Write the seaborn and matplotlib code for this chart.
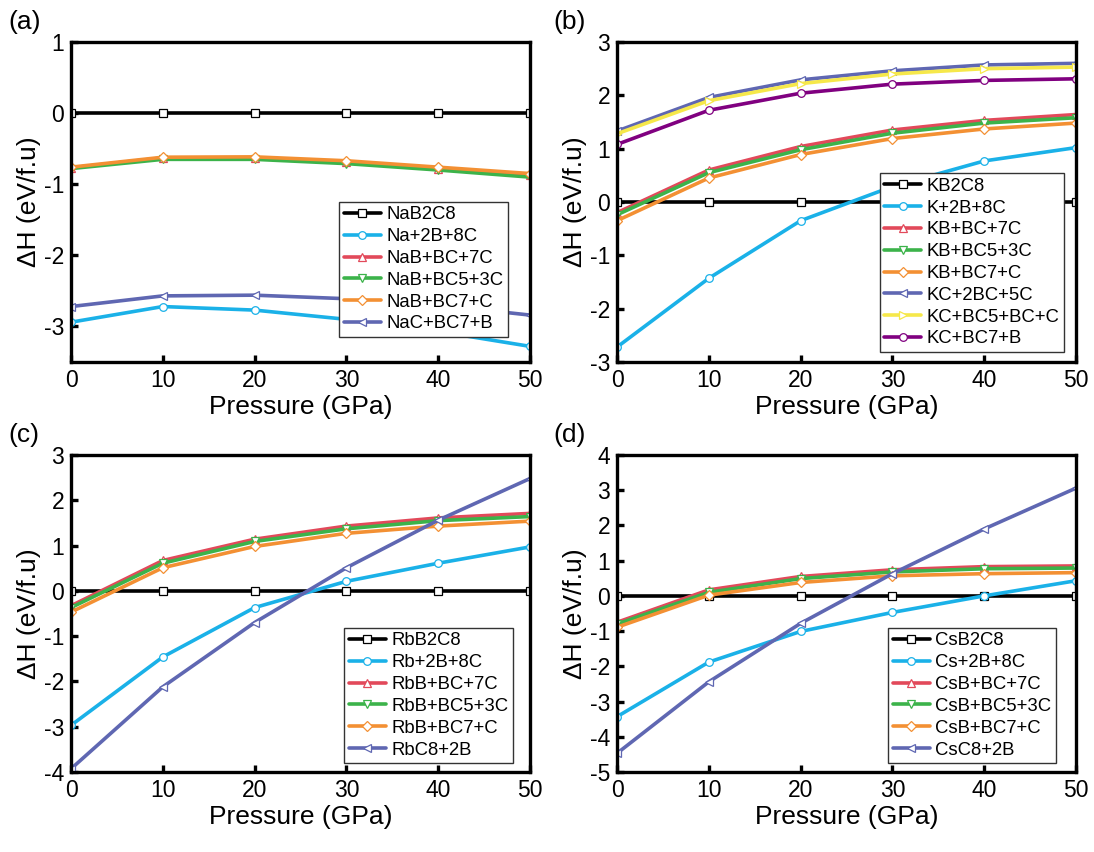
import numpy as np
import matplotlib
matplotlib.use("Agg")
import matplotlib.pyplot as plt
import seaborn as sns

sns.set_style("ticks")
plt.rcParams["font.family"] = ["Liberation Sans", "DejaVu Sans"]
plt.rcParams["axes.unicode_minus"] = False
plt.rcParams["axes.edgecolor"] = "black"
plt.rcParams["text.color"] = "black"
plt.rcParams["axes.labelcolor"] = "black"
plt.rcParams["xtick.color"] = "black"
plt.rcParams["ytick.color"] = "black"

pressure = [0, 10, 20, 30, 40, 50]

# (a) Na
na_labels = ["NaB2C8", "Na+2B+8C", "NaB+BC+7C", "NaB+BC5+3C", "NaB+BC7+C", "NaC+BC7+B"]
na_vals = [
    [0, 0, 0, 0, 0, 0],
    [-2.94, -2.72, -2.77, -2.90, -3.07, -3.28],
    [-0.77, -0.63, -0.63, -0.69, -0.78, -0.87],
    [-0.78, -0.65, -0.65, -0.71, -0.80, -0.90],
    [-0.76, -0.62, -0.615, -0.67, -0.76, -0.85],
    [-2.72, -2.57, -2.56, -2.61, -2.70, -2.84],
]

# (b) K
k_labels = ["KB2C8", "K+2B+8C", "KB+BC+7C", "KB+BC5+3C", "KB+BC7+C",
            "KC+2BC+5C", "KC+BC5+BC+C", "KC+BC7+B"]
k_vals = [
    [0, 0, 0, 0, 0, 0],
    [-2.72, -1.43, -0.35, 0.29, 0.77, 1.02],
    [-0.20, 0.60, 1.04, 1.35, 1.53, 1.64],
    [-0.24, 0.55, 0.98, 1.29, 1.48, 1.58],
    [-0.35, 0.45, 0.89, 1.19, 1.37, 1.48],
    [1.33, 1.96, 2.29, 2.46, 2.57, 2.60],
    [1.28, 1.90, 2.22, 2.40, 2.50, 2.53],
    [1.08, 1.72, 2.04, 2.21, 2.28, 2.31],
]

# (c) Rb
rb_labels = ["RbB2C8", "Rb+2B+8C", "RbB+BC+7C", "RbB+BC5+3C", "RbB+BC7+C", "RbC8+2B"]
rb_vals = [
    [0, 0, 0, 0, 0, 0],
    [-2.97, -1.46, -0.37, 0.21, 0.61, 0.97],
    [-0.33, 0.67, 1.14, 1.43, 1.61, 1.71],
    [-0.37, 0.61, 1.09, 1.37, 1.55, 1.64],
    [-0.47, 0.51, 0.98, 1.27, 1.43, 1.54],
    [-3.93, -2.12, -0.70, 0.51, 1.56, 2.48],
]

# (d) Cs
cs_labels = ["CsB2C8", "Cs+2B+8C", "CsB+BC+7C", "CsB+BC5+3C", "CsB+BC7+C", "CsC8+2B"]
cs_vals = [
    [0, 0, 0, 0, 0, 0],
    [-3.43, -1.88, -1.01, -0.47, 0.0, 0.43],
    [-0.75, 0.17, 0.55, 0.74, 0.83, 0.85],
    [-0.80, 0.10, 0.49, 0.68, 0.77, 0.79],
    [-0.89, 0.02, 0.38, 0.57, 0.63, 0.66],
    [-4.47, -2.44, -0.78, 0.63, 1.90, 3.06],
]

colors6 = ["black", "#1ab1e8", "#e2495a", "#3cb34a", "#f39033", "#5f67b2"]
markers6 = ["s", "o", "^", "v", "D", "<"]
colors8 = colors6 + ["#f6e84a", "#800080"]
markers8 = markers6 + [">", "o"]

panels = [
    ("(a)", na_labels, na_vals, colors6, markers6, (-3.5, 1), np.arange(-3, 2, 1),
     [0.0649, 0.5751, 0.4196, 0.3756], (0.952, 0.078)),
    ("(b)", k_labels, k_vals, colors8, markers8, (-3, 3), np.arange(-3, 4, 1),
     [0.564, 0.5751, 0.4196, 0.3756], (0.974, 0.031)),
    ("(c)", rb_labels, rb_vals, colors6, markers6, (-4, 3), np.arange(-4, 4, 1),
     [0.0649, 0.0939, 0.4196, 0.3721], (0.963, 0.028)),
    ("(d)", cs_labels, cs_vals, colors6, markers6, (-5, 4), np.arange(-5, 5, 1),
     [0.564, 0.0939, 0.4196, 0.3721], (0.956, 0.028)),
]

fig = plt.figure(figsize=(10.94, 8.52), dpi=100)

for tag, labels, vals, cols, marks, ylim, yticks, rect, leg_anchor in panels:
    ax = fig.add_axes(rect)
    for lab, v, c, m in zip(labels, vals, cols, marks):
        sns.lineplot(x=pressure, y=v, ax=ax, color=c, marker=m, label=lab,
                     linewidth=2.6, markersize=5.5, markerfacecolor="white",
                     markeredgecolor=c, markeredgewidth=0.9, legend=False)
    ax.set_xlim(0, 50)
    ax.set_ylim(*ylim)
    ax.set_xticks(range(0, 51, 10))
    ax.set_yticks(yticks)
    ax.set_xlabel("Pressure (GPa)", fontsize=19, labelpad=2)
    ax.set_ylabel("ΔH (eV/f.u)", fontsize=19, labelpad=2)
    ax.tick_params(direction="in", length=5, width=2.4, labelsize=16.5, pad=5)
    for sp in ax.spines.values():
        sp.set_visible(True)
        sp.set_linewidth(2.4)
        sp.set_color("black")
    leg = ax.legend(loc="lower right", bbox_to_anchor=leg_anchor, borderaxespad=0,
                    fontsize=13.3, frameon=True, fancybox=False, framealpha=1,
                    edgecolor="#333333", handlelength=2.0, handletextpad=0.3,
                    labelspacing=0.26, borderpad=0.25)
    leg.get_frame().set_linewidth(1.0)
    x0 = 8 / 1094 if rect[0] < 0.5 else 553 / 1094
    y0 = rect[1] + rect[3] + 20 / 852
    fig.text(x0, y0, tag, fontsize=19, ha="left", va="center")

plt.savefig("out.png", dpi=100)
